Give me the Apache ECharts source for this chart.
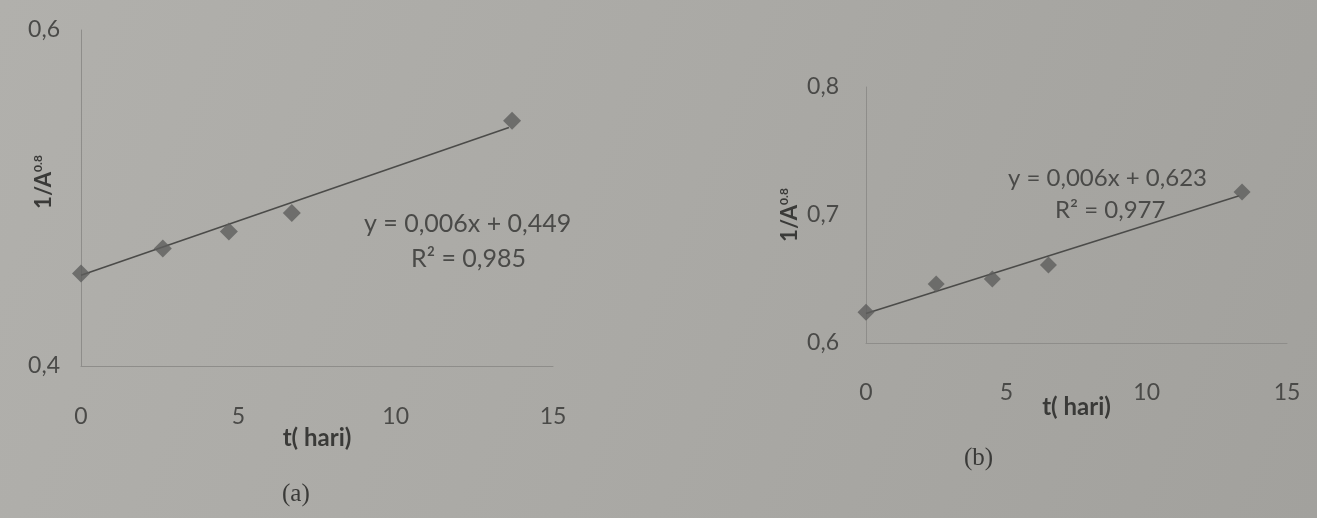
<!DOCTYPE html>
<html>
<head>
<meta charset="utf-8">
<script src="https://cdn.jsdelivr.net/npm/echarts@6/dist/echarts.min.js"></script>
<style>
html,body{margin:0;padding:0;background:#aaa9a5;}
#c{width:1317px;height:518px;}
</style>
</head>
<body>
<div id="c"></div>
<script>
// Chart (a)
const tA = [0, 2.6, 4.7, 6.7, 13.7];
const yA = [0.455, 0.470, 0.480, 0.491, 0.546];
const trendA_t = [0, 13.6];
const trendA_y = [0.454, 0.542];
// Chart (b)
const tB = [0, 2.5, 4.5, 6.5, 13.4];
const yB = [0.624, 0.646, 0.650, 0.661, 0.718];
const trendB_t = [0, 13.3];
const trendB_y = [0.623, 0.715];
// Tick settings
const xTicks = {min: 0, max: 15, interval: 5};
const yTicksA = {min: 0.4, max: 0.6, interval: 0.2};
const yTicksB = {min: 0.6, max: 0.8, interval: 0.1};
const eqA = ['y = 0,006x + 0,449', 'R² = 0,985'];
const eqB = ['y = 0,006x + 0,623', 'R² = 0,977'];
const xName = 't( hari)';

const chart = echarts.init(document.getElementById('c'), null, {renderer: 'canvas'});
const tickFont = {color: '#4a4a48', fontSize: 23, fontFamily: 'Lato'};
const fmt = v => (Math.round(v * 10) / 10).toFixed(1).replace('.', ',');
const axisLine = {show: true, lineStyle: {color: '#8e8d8a', width: 1}};
const yRich = {
  b: {fontWeight: 'bold', fontSize: 22, color: '#3a3a38', fontFamily: 'Lato'},
  s: {fontWeight: 'bold', fontSize: 12, color: '#3a3a38', fontFamily: 'Lato', verticalAlign: 'top', padding: [0, 0, 12, 0]}
};
const yNameText = '{b|1/A}{s|0.8}';
const xNameStyle = {fontWeight: 'bold', fontSize: 24, color: '#3a3a38', fontFamily: 'Lato'};
function pairs(xs, ys) { return xs.map((x, i) => [x, ys[i]]); }

const option = {
  backgroundColor: {
    type: 'linear', x: 0, y: 0, x2: 1, y2: 1,
    colorStops: [{offset: 0, color: '#b1b0ac'}, {offset: 0.5, color: '#aaa9a5'}, {offset: 1, color: '#a2a19d'}]
  },
  animation: false,
  grid: [
    {left: 81, top: 30, width: 472, height: 336},
    {left: 866, top: 87, width: 421, height: 256}
  ],
  xAxis: [
    {type: 'value', gridIndex: 0, min: xTicks.min, max: xTicks.max, interval: xTicks.interval,
     axisLine: axisLine, axisTick: {show: false}, splitLine: {show: false},
     axisLabel: Object.assign({margin: 39}, tickFont),
     name: xName, nameLocation: 'middle', nameGap: 60, nameMoveOverlap: false,
     nameTextStyle: xNameStyle},
    {type: 'value', gridIndex: 1, min: xTicks.min, max: xTicks.max, interval: xTicks.interval,
     axisLine: axisLine, axisTick: {show: false}, splitLine: {show: false},
     axisLabel: Object.assign({margin: 38}, tickFont),
     name: xName, nameLocation: 'middle', nameGap: 52, nameMoveOverlap: false,
     nameTextStyle: xNameStyle}
  ],
  yAxis: [
    {type: 'value', gridIndex: 0, min: yTicksA.min, max: yTicksA.max, interval: yTicksA.interval,
     axisLine: axisLine, axisTick: {show: false}, splitLine: {show: false},
     axisLabel: Object.assign({margin: 21, formatter: fmt}, tickFont),
     name: yNameText, nameLocation: 'middle', nameGap: 25, nameRotate: 90, nameMoveOverlap: false,
     nameTextStyle: {rich: yRich, padding: [0, 0, 0, 32]}},
    {type: 'value', gridIndex: 1, min: yTicksB.min, max: yTicksB.max, interval: yTicksB.interval,
     axisLine: axisLine, axisTick: {show: false}, splitLine: {show: false},
     axisLabel: Object.assign({margin: 27, formatter: fmt}, tickFont),
     name: yNameText, nameLocation: 'middle', nameGap: 64, nameRotate: 90, nameMoveOverlap: false,
     nameTextStyle: {rich: yRich}}
  ],
  series: [
    {type: 'line', xAxisIndex: 0, yAxisIndex: 0, data: pairs(trendA_t, trendA_y), symbol: 'none',
     lineStyle: {color: '#4b4b49', width: 1.6}, z: 2},
    {type: 'scatter', xAxisIndex: 0, yAxisIndex: 0, data: pairs(tA, yA), symbol: 'diamond', symbolSize: 18,
     itemStyle: {color: '#5e5e5c'}, z: 3},
    {type: 'line', xAxisIndex: 1, yAxisIndex: 1, data: pairs(trendB_t, trendB_y), symbol: 'none',
     lineStyle: {color: '#4b4b49', width: 1.6}, z: 2},
    {type: 'scatter', xAxisIndex: 1, yAxisIndex: 1, data: pairs(tB, yB), symbol: 'diamond', symbolSize: 17,
     itemStyle: {color: '#5e5e5c'}, z: 3}
  ],
  graphic: [
    {type: 'text', left: 364, top: 211, style: {text: eqA[0], fill: '#4a4a48', font: '25px Lato'}},
    {type: 'text', left: 411, top: 246, style: {text: eqA[1], fill: '#4a4a48', font: '25px Lato'}},
    {type: 'text', left: 1008, top: 166, style: {text: eqB[0], fill: '#4a4a48', font: '24px Lato'}},
    {type: 'text', left: 1055, top: 198, style: {text: eqB[1], fill: '#4a4a48', font: '24px Lato'}},
    {type: 'text', left: 282, top: 482, style: {text: '(a)', fill: '#3a3a38', font: '25px "Liberation Serif"'}},
    {type: 'text', left: 964, top: 446, style: {text: '(b)', fill: '#3a3a38', font: '25px "Liberation Serif"'}}
  ]
};
chart.setOption(option);
</script>
</body>
</html>
